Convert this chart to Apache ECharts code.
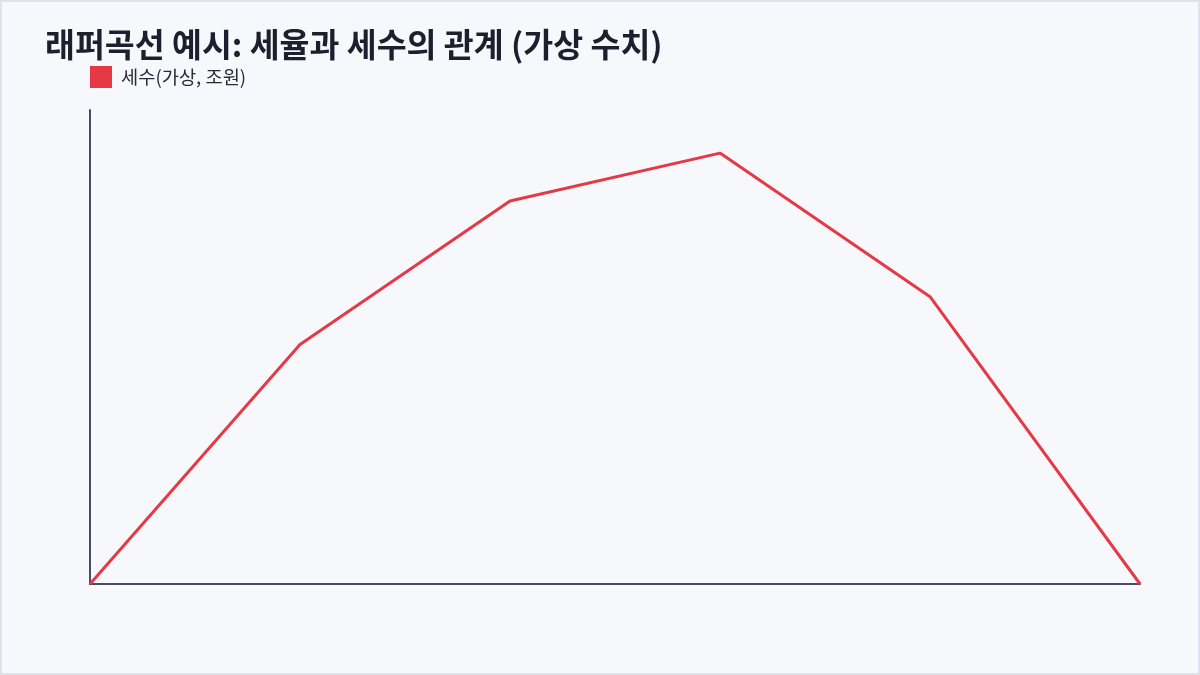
<!DOCTYPE html>
<html>
<head>
<meta charset="utf-8">
<script src="https://cdn.jsdelivr.net/npm/echarts@6/dist/echarts.min.js"></script>
<style>
html,body{margin:0;padding:0;background:#f7f8fc;}
#chart{position:absolute;left:0;top:0;width:1200px;height:675px;}
#frame{position:absolute;left:0;top:0;width:1200px;height:675px;box-sizing:border-box;border:2px solid #dfe4ec;pointer-events:none;}
</style>
</head>
<body>
<div id="chart"></div>
<div id="frame"></div>
<script>
const taxRates = ['0%', '20%', '40%', '60%', '80%', '100%'];
const revenue = [0, 50, 80, 90, 60, 0];
const seriesName = '세수(가상, 조원)';
const titleText = '래퍼곡선 예시: 세율과 세수의 관계 (가상 수치)';

const chart = echarts.init(document.getElementById('chart'), null, {renderer: 'canvas'});
chart.setOption({
  backgroundColor: '#f7f8fc',
  animation: false,
  title: {
    text: titleText,
    left: 40,
    top: 23,
    textStyle: {
      fontFamily: 'Noto Sans CJK KR',
      fontSize: 32.5,
      fontWeight: 'bold',
      color: '#1e1e2e'
    }
  },
  legend: {
    left: 90,
    top: 66,
    padding: 0,
    icon: 'rect',
    itemWidth: 22,
    itemHeight: 22,
    itemGap: 10,
    textStyle: {
      fontFamily: 'Noto Sans CJK KR',
      fontSize: 18.7,
      color: '#2a2a3a',
      padding: [0, 0, 0, 4]
    },
    data: [seriesName]
  },
  grid: {
    left: 90,
    right: 60,
    top: 110,
    bottom: 91,
    containLabel: false
  },
  xAxis: {
    type: 'category',
    data: taxRates,
    boundaryGap: false,
    axisLine: {show: true, lineStyle: {color: '#4a4a68', width: 2}},
    axisTick: {show: false},
    axisLabel: {show: false},
    splitLine: {show: false}
  },
  yAxis: {
    type: 'value',
    min: 0,
    max: function (v) { return v.max * 1.1; },
    axisLine: {show: true, lineStyle: {color: '#4a4a68', width: 2}},
    axisTick: {show: false},
    axisLabel: {show: false},
    splitLine: {show: false}
  },
  series: [{
    name: seriesName,
    type: 'line',
    data: revenue,
    showSymbol: false,
    symbol: 'none',
    color: '#e63946',
    lineStyle: {color: '#e63946', width: 3}
  }]
});
</script>
</body>
</html>
